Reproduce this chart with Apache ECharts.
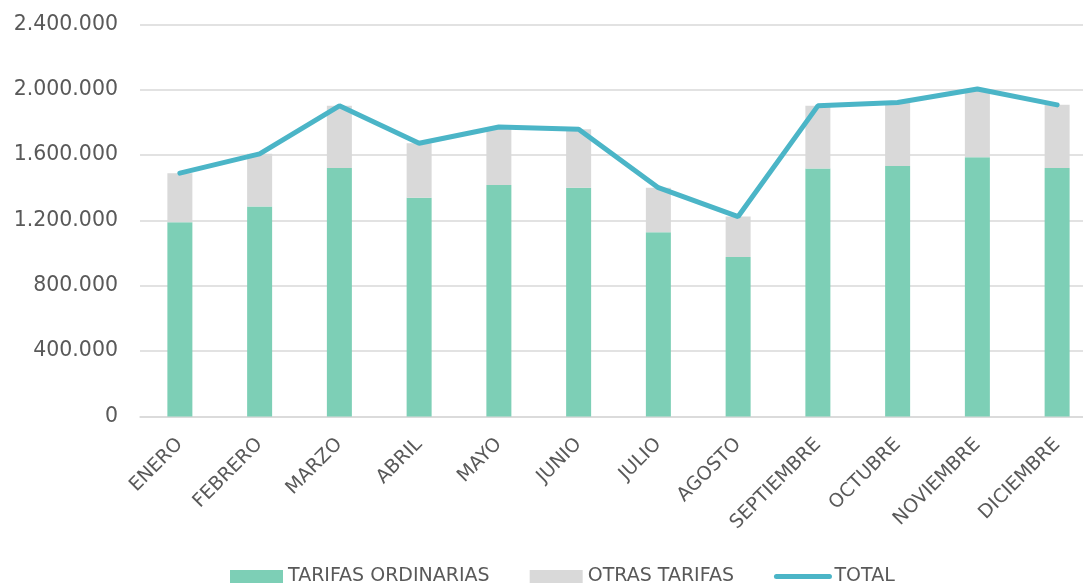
<!DOCTYPE html>
<html>
<head>
<meta charset="utf-8">
<script src="https://cdn.jsdelivr.net/npm/echarts@6/dist/echarts.min.js"></script>
<style>
  html, body { margin: 0; padding: 0; background: #fff; overflow: hidden; }
  /* plot area runs past the right edge of the picture, as in the original */
  #chart { width: 1097px; height: 584px; }
</style>
</head>
<body>
<div id="chart"></div>
<script>
// monthly data
const months = ['ENERO', 'FEBRERO', 'MARZO', 'ABRIL', 'MAYO', 'JUNIO', 'JULIO', 'AGOSTO', 'SEPTIEMBRE', 'OCTUBRE', 'NOVIEMBRE', 'DICIEMBRE'];
const tarifasOrdinarias = [1190000, 1285000, 1522000, 1340000, 1418000, 1401000, 1128000, 977000, 1518000, 1534000, 1588000, 1522000];
const otrasTarifas = [300000, 323000, 380000, 333000, 354000, 358000, 273000, 247000, 384000, 388000, 417000, 386000];
const total = [1490000, 1608000, 1902000, 1673000, 1772000, 1759000, 1401000, 1224000, 1902000, 1922000, 2005000, 1908000];

const textColor = '#595959';
const font = '"DejaVu Sans", "Noto Sans", sans-serif';

function fmt(v) {
  return String(v).replace(/\B(?=(\d{3})+(?!\d))/g, '.');
}

const chart = echarts.init(document.getElementById('chart'));
chart.setOption({
  animation: false,
  textStyle: { fontFamily: font },
  grid: { left: 140, right: 0, top: 24.5, height: 392, containLabel: false },
  legend: {
    left: 225,
    top: 562,
    itemWidth: 53,
    itemHeight: 13,
    itemGap: 40,
    textStyle: { color: textColor, fontSize: 19, fontFamily: font },
    data: [
      { name: 'TARIFAS ORDINARIAS', icon: 'rect' },
      { name: 'OTRAS TARIFAS', icon: 'rect' },
      {
        name: 'TOTAL',
        itemStyle: { color: 'rgba(0,0,0,0)', borderWidth: 0 },
        lineStyle: { width: 5, cap: 'round', color: '#4BB5C7' }
      }
    ]
  },
  xAxis: {
    type: 'category',
    data: months,
    axisLine: { lineStyle: { color: '#D9D9D9', width: 1.5 } },
    axisTick: { show: false },
    axisLabel: { color: textColor, fontSize: 19, rotate: 45, margin: 25, interval: 0 }
  },
  yAxis: {
    type: 'value',
    min: 0,
    max: 2400000,
    interval: 400000,
    axisLine: { show: false },
    axisTick: { show: false },
    splitLine: { lineStyle: { color: '#D9D9D9', width: 1.5 } },
    axisLabel: { color: textColor, fontSize: 20.5, margin: 22, formatter: fmt }
  },
  series: [
    {
      name: 'TARIFAS ORDINARIAS',
      type: 'bar',
      stack: 'tarifas',
      barWidth: 25,
      itemStyle: { color: '#7DCFB6' },
      data: tarifasOrdinarias
    },
    {
      name: 'OTRAS TARIFAS',
      type: 'bar',
      stack: 'tarifas',
      barWidth: 25,
      itemStyle: { color: '#D9D9D9' },
      data: otrasTarifas
    },
    {
      name: 'TOTAL',
      type: 'line',
      symbol: 'none',
      lineStyle: { color: '#4BB5C7', width: 5, cap: 'round' },
      itemStyle: { color: '#4BB5C7' },
      data: total
    }
  ]
});
</script>
</body>
</html>
